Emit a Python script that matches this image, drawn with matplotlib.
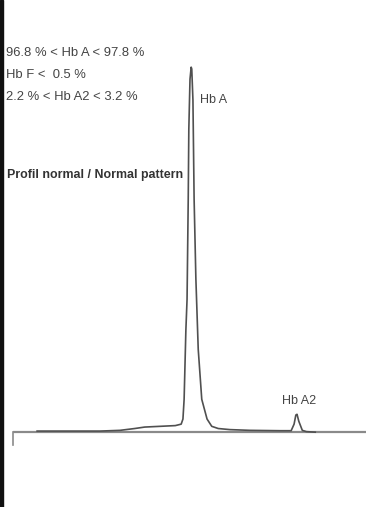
import matplotlib
matplotlib.use("Agg")
import matplotlib.pyplot as plt
from matplotlib.patches import Rectangle

# chromatogram trace (retention time in min, signal in % of Hb A peak)
time_min = [0.41, 1.48, 1.82, 2.07, 2.24, 2.50, 2.76, 2.86, 2.89, 2.91, 2.94,
            2.96, 2.98, 2.99, 3.01, 3.03, 3.04, 3.06, 3.08, 3.11, 3.15, 3.21,
            3.30, 3.38, 3.49, 3.69, 4.03, 4.54, 4.73, 4.78, 4.81, 4.83, 4.86,
            4.92, 4.99, 5.14]
signal = [0.3, 0.3, 0.5, 1.0, 1.4, 1.6, 1.8, 2.2, 3.6, 9.0, 28.0,
          36.4, 63.8, 83.0, 96.7, 100.0, 99.5, 91.0, 63.8, 42.0, 22.7, 9.0,
          3.6, 1.6, 1.0, 0.7, 0.5, 0.4, 0.4, 2.2, 4.7, 4.9, 3.0,
          0.5, 0.15, 0.0]

peak_names = ["Hb A", "Hb A2"]
peak_label_pos = [(3.18, 91.0), (4.58, 8.5)]

ref_lines = ["96.8 % < Hb A < 97.8 %", "Hb F <  0.5 %", "2.2 % < Hb A2 < 3.2 %"]
pattern_title = "Profil normal / Normal pattern"

W, H = 366, 507
fig = plt.figure(figsize=(W / 100, H / 100), dpi=100)
fig.patch.set_facecolor("white")
ax = fig.add_axes([0, 0, 1, 1])
ax.set_xlim(-0.221, 6.003)
ax.set_ylim(-20.5, 118.4)
ax.axis("off")

font = ["Liberation Sans", "DejaVu Sans"]
txt_color = "#444444"

# baseline and start tick
ax.plot([0, 6.003], [0, 0], color="#8a8a8a", lw=1.6, solid_capstyle="butt")
ax.plot([0, 0], [0, -3.5], color="#8a8a8a", lw=1.2)

ax.plot(time_min, signal, color="#505050", lw=1.2)

for name, (x, y) in zip(peak_names, peak_label_pos):
    ax.text(x, y, name, fontsize=9, family=font, color=txt_color, va="center")

ys = [53, 75, 97]
for line, y in zip(ref_lines, ys):
    fig.text(6 / W, 1 - y / H, line, fontsize=9.4, family=font,
             color=txt_color, va="center")
fig.text(7 / W, 1 - 175 / H, pattern_title, fontsize=8.9, family=font,
         weight="bold", color="#333333", va="center")

# dark edge on the left of the scan
fig.patches.append(Rectangle((0, 0), 3 / W, 1, transform=fig.transFigure,
                             color="#111111", zorder=10))

fig.savefig("out.png", dpi=100)
